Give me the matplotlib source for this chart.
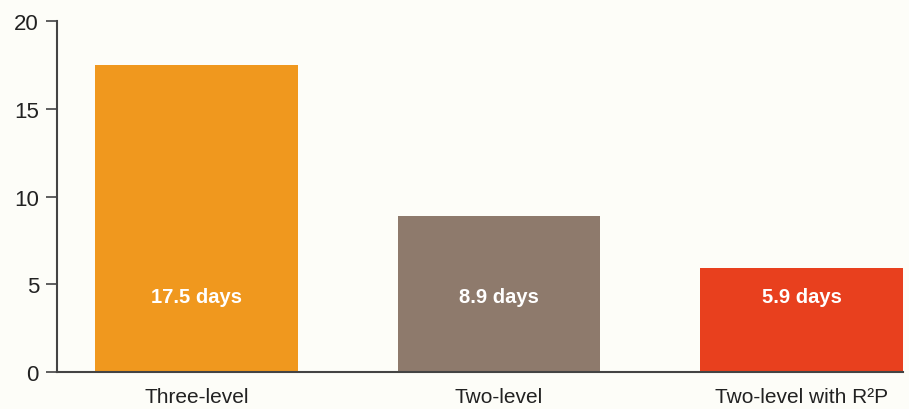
import numpy as np
import matplotlib.pyplot as plt

plt.rcParams['font.family'] = ['Liberation Sans', 'DejaVu Sans']

# data
categories = ["Three-level", "Two-level", "Two-level with R\u00b2P"]
days = [17.5, 8.9, 5.9]
bar_labels = ["17.5 days", "8.9 days", "5.9 days"]
colors = ["#F0981E", "#8E7A6C", "#E8401E"]

fig = plt.figure(figsize=(9.09, 4.10), dpi=100)
fig.patch.set_facecolor("#FDFDF8")
ax = fig.add_axes([0.0627, 0.0902, 0.9307, 0.8561])
ax.set_facecolor("#FDFDF8")

x = np.arange(len(categories))
ax.bar(x, days, width=0.67, color=colors)

for xi, lab in zip(x, bar_labels):
    ax.text(xi, 4.3, lab, ha="center", va="center", color="white",
            fontsize=14.5, fontweight="bold")

ax.set_xlim(-0.461, 2.335)
ax.set_ylim(0, 20)
ax.set_yticks([0, 5, 10, 15, 20])
ax.set_xticks(x)
ax.set_xticklabels(categories, fontsize=15, color="#222222")
ax.tick_params(axis="x", length=0, pad=11)
ax.tick_params(axis="y", length=8, width=1.2, color="#444444",
               labelsize=16, labelcolor="#222222", pad=5)

for s in ["top", "right"]:
    ax.spines[s].set_visible(False)
for s in ["left", "bottom"]:
    ax.spines[s].set_color("#444444")
    ax.spines[s].set_linewidth(1.5)

fig.savefig("out.png", dpi=100, facecolor=fig.get_facecolor())
